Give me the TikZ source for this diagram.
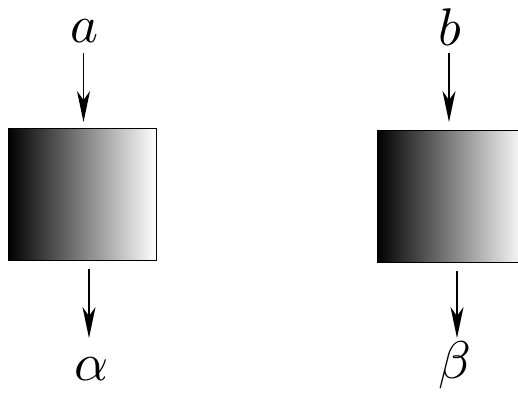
\documentclass[tikz,border=0pt]{standalone}
\usetikzlibrary{arrows.meta}
\begin{document}
\begin{tikzpicture}[x=1pt,y=-1pt,
  shbox/.style={draw=black,line width=1pt,left color=black,right color=white,minimum width=148pt,minimum height=132pt,inner sep=0pt,outer sep=0pt},
  arr/.style={line width=1.3pt,-{Stealth[length=31pt,width=13pt,inset=9pt]}},
  lbl/.style={scale=5.3,anchor=base,inner sep=0pt}]
\useasboundingbox (0,0) rectangle (518,392);
\clip (0,0) rectangle (518,392);
\node[shbox] (boxA) at (82,194) {};
\node[shbox] (boxB) at (451,196) {};
\node[lbl] (la) at (85,42) {$a$};
\node[lbl] (lb) at (450,45) {$b$};
\node[lbl] (lalpha) at (92,380) {$\alpha$};
\node[lbl] (lbeta) at (455,378) {$\beta$};
\coordinate (a1) at (83.5,53);
\coordinate (a2) at (83.5,122);
\coordinate (b1) at (449,53);
\coordinate (b2) at (449,122);
\coordinate (c1) at (89,269);
\coordinate (c2) at (89,338);
\coordinate (d1) at (457,271);
\coordinate (d2) at (457,338);
\draw[arr] (a1) -- (a2);
\draw[arr] (b1) -- (b2);
\draw[arr] (c1) -- (c2);
\draw[arr] (d1) -- (d2);
\end{tikzpicture}
\end{document}
